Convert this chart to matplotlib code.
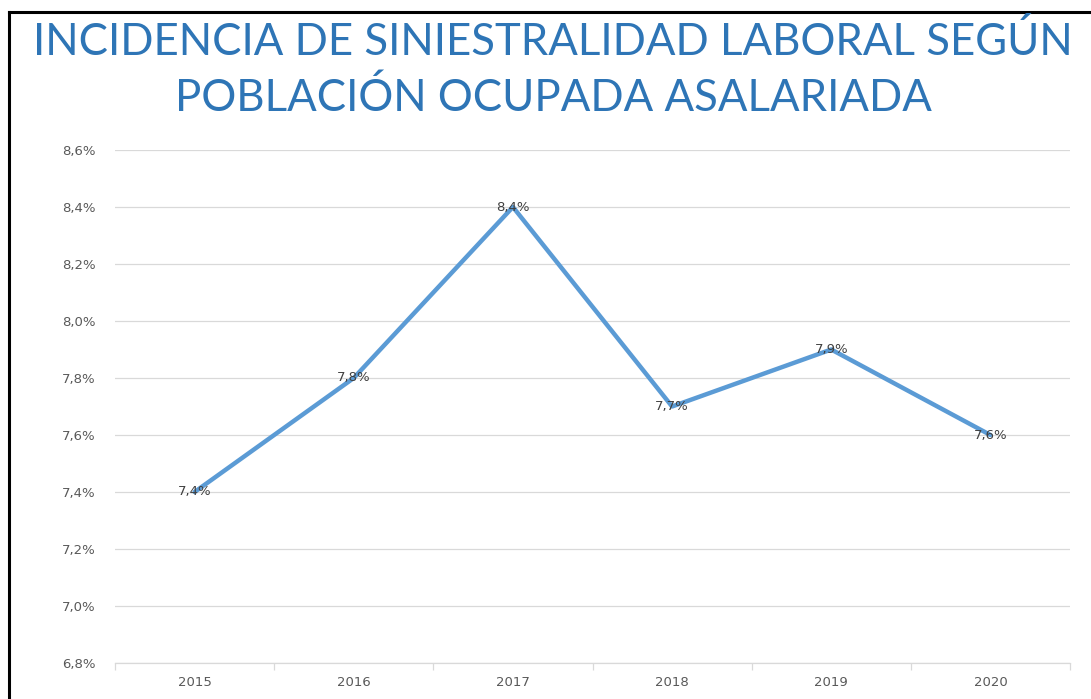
import matplotlib.pyplot as plt
import matplotlib.lines as mlines
import matplotlib.ticker as mticker
import numpy as np

years = ['2015', '2016', '2017', '2018', '2019', '2020']
incidencia = [7.4, 7.8, 8.4, 7.7, 7.9, 7.6]
y_ticks = [6.8, 7.0, 7.2, 7.4, 7.6, 7.8, 8.0, 8.2, 8.4, 8.6]

title_font = ['Lato', 'DejaVu Sans']
text_color = '#595959'
line_color = '#5B9BD5'

fig = plt.figure(figsize=(10.91, 6.99), dpi=100)
W, H = 1091, 699
ax = fig.add_axes([115 / W, 1 - 663 / H, (1070 - 115) / W, (663 - 150) / H])

x = np.arange(len(years))
ax.plot(x, incidencia, color=line_color, linewidth=3.2, solid_capstyle='round')

# etiquetas de datos centradas en cada punto
for xi, v in zip(x, incidencia):
    ax.text(xi, v, f'{v:.1f}%'.replace('.', ','), ha='center', va='center',
            fontsize=9.5, color='#404040')

ax.set_xlim(-0.5, len(years) - 0.5)
ax.set_ylim(y_ticks[0], y_ticks[-1])
ax.set_yticks(y_ticks)
ax.yaxis.set_major_formatter(mticker.FuncFormatter(lambda v, p: f'{v:.1f}%'.replace('.', ',')))
ax.set_xticks(x)
ax.set_xticklabels(years)
ax.set_xticks(np.arange(-0.5, len(years), 1), minor=True)

ax.grid(axis='y', color='#D9D9D9', linewidth=0.9)
ax.set_axisbelow(True)
for s in ['top', 'right', 'left']:
    ax.spines[s].set_visible(False)
ax.spines['bottom'].set_color('#D9D9D9')
ax.spines['bottom'].set_linewidth(0.9)

ax.tick_params(axis='y', length=0, pad=14, labelsize=9.5, labelcolor=text_color)
ax.tick_params(axis='x', which='major', length=0, pad=9, labelsize=9.5, labelcolor=text_color)
ax.tick_params(axis='x', which='minor', length=5, color='#D9D9D9', width=0.9)

fig.text(553 / W, 1 - 42 / H, 'INCIDENCIA DE SINIESTRALIDAD LABORAL SEGÚN',
         ha='center', va='center', fontsize=31.5, color='#2E75B6', family=title_font)
fig.text(553 / W, 1 - 98 / H, 'POBLACIÓN OCUPADA ASALARIADA',
         ha='center', va='center', fontsize=31.5, color='#2E75B6', family=title_font)

# marco negro (recortado a la derecha y abajo)
fig.add_artist(mlines.Line2D([9 / W, 9 / W], [0, 1 - 12 / H], color='black', linewidth=2.2))
fig.add_artist(mlines.Line2D([9 / W, 1], [1 - 12 / H, 1 - 12 / H], color='black', linewidth=2.2))

fig.savefig('out.png', dpi=100)
